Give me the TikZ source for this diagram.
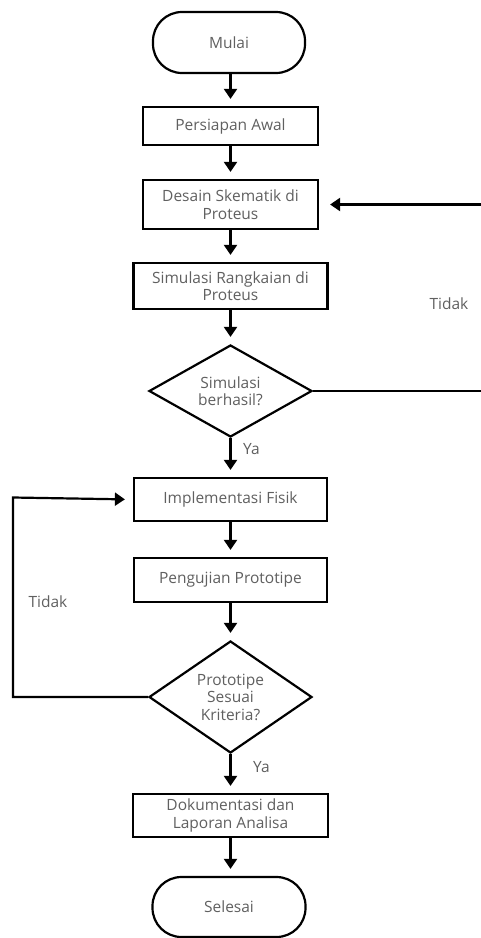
\documentclass[tikz,border=0pt]{standalone}
\usepackage{fontspec}
\setmainfont{Open Sans}
\usetikzlibrary{shapes.geometric,arrows.meta}
\definecolor{txt}{HTML}{606060}
\tikzset{
  x=1pt,y=-1pt,
  base/.style={draw=black,line width=2.2pt,align=center,text=txt,font=\fontsize{15.5}{17.5}\selectfont,inner sep=0pt},
  procbox/.style={base,rectangle},
  term/.style={base,rectangle,rounded corners=29pt},
  decide/.style={base,diamond},
  conn/.style={line width=2.2pt,-{Triangle[width=13pt,length=10pt]},shorten >=7pt},
  lbl/.style={text=txt,font=\fontsize{15.5}{17.5}\selectfont,inner sep=0pt}
}
\begin{document}
\begin{tikzpicture}
\useasboundingbox[fill=white] (0,0) rectangle (480,938);
\node[term,minimum width=152pt,minimum height=61pt] (mulai) at (229,42.5) {Mulai};
\node[procbox,minimum width=175pt,minimum height=38pt] (persiapan) at (230.5,126) {Persiapan Awal};
\node[procbox,minimum width=175pt,minimum height=49pt] (desain) at (230.5,204.5) {Desain Skematik di\\Proteus};
\node[procbox,minimum width=194pt,minimum height=46pt] (simrang) at (230.5,286) {Simulasi Rangkaian di\\Proteus};
\node[decide,aspect=1.77,minimum width=163pt,minimum height=92pt] (d1) at (230.5,391) {Simulasi\\berhasil?};
\node[procbox,minimum width=193pt,minimum height=43pt] (impl) at (230.5,499.5) {Implementasi Fisik};
\node[procbox,minimum width=193pt,minimum height=44pt] (uji) at (230.5,580) {Pengujian Prototipe};
\node[decide,aspect=1.455,minimum width=163pt,minimum height=112pt] (d2) at (230.5,697) {Prototipe\\Sesuai\\Kriteria?};
\node[procbox,minimum width=195pt,minimum height=43pt] (dok) at (230.5,815.5) {Dokumentasi dan\\Laporan Analisa};
\node[term,minimum width=153pt,minimum height=60pt] (selesai) at (229,907) {Selesai};

\node[lbl,anchor=west] (ya1) at (243,449) {Ya};
\node[lbl,anchor=west] (ya2) at (253,767) {Ya};
\node[lbl] (tidak1) at (449,304) {Tidak};
\node[lbl] (tidak2) at (48,602) {Tidak};

\coordinate (rt1) at (485,391);
\coordinate (rt2) at (485,204.5);
\coordinate (lt1) at (13,697);
\coordinate (lt2) at (13,497.5);

\draw[conn] (mulai.south -| persiapan.north) -- (persiapan.north);
\draw[conn] (persiapan) -- (desain);
\draw[conn] (desain) -- (simrang);
\draw[conn] (simrang) -- (d1);
\draw[conn] (d1) -- (impl);
\draw[conn] (impl) -- (uji);
\draw[conn] (uji) -- (d2);
\draw[conn] (d2) -- (dok);
\draw[conn] (dok.south) -- (dok.south |- selesai.north);
\draw[conn,shorten >=11pt] (d1.east) -- (rt1) -- (rt2) -- (desain.east);
\draw[conn,shorten >=8pt] (d2.west) -- (lt1) -- (lt2) -- (impl.west);
\end{tikzpicture}
\end{document}
